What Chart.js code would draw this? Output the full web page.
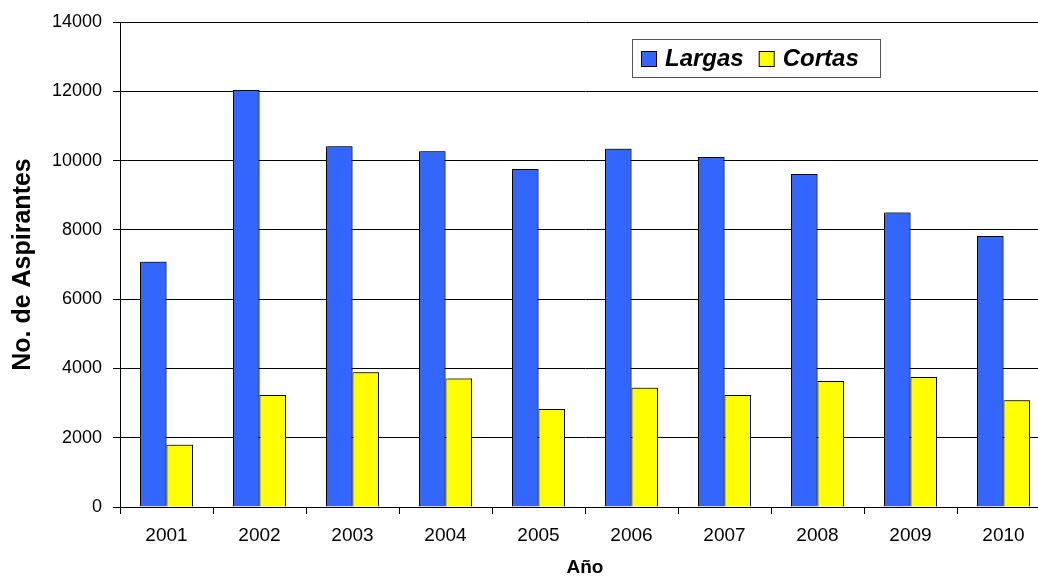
<!DOCTYPE html>
<html>
<head>
<meta charset="utf-8">
<script src="https://cdn.jsdelivr.net/npm/chart.js@4.4.1/dist/chart.umd.min.js"></script>
<style>
  html, body { margin: 0; padding: 0; background: #fff; overflow: hidden; }
  canvas { display: block; }
</style>
</head>
<body>
<canvas id="myChart" width="1050" height="579"></canvas>
<script>
// Data
const years = ['2001', '2002', '2003', '2004', '2005', '2006', '2007', '2008', '2009', '2010'];
const largas = [7080, 12040, 10410, 10270, 9760, 10340, 10100, 9610, 8500, 7820];
const cortas = [1800, 3230, 3890, 3710, 2830, 3440, 3230, 3640, 3750, 3080];
const yTicks = [0, 2000, 4000, 6000, 8000, 10000, 12000, 14000];

// Little shadow on the bars, like the old spreadsheet chart
const barShadow = {
    id: 'barShadow',
    beforeDatasetsDraw(chart) {
        const ctx = chart.ctx;
        ctx.save();
        ctx.shadowColor = 'rgba(0,0,0,0.45)';
        ctx.shadowOffsetX = 2;
        ctx.shadowOffsetY = -1;
        ctx.shadowBlur = 0;
    },
    afterDatasetsDraw(chart) {
        chart.ctx.restore();
    }
};

// Boxed legend placed inside the plot, top right
const boxLegend = {
    id: 'boxLegend',
    afterDraw(chart) {
        const ctx = chart.ctx;
        const x = 632, y = 39, w = 248, h = 38;
        ctx.save();
        ctx.fillStyle = '#fff';
        ctx.fillRect(x, y, w, h);
        ctx.strokeStyle = '#555';
        ctx.lineWidth = 1;
        ctx.strokeRect(x + 0.5, y + 0.5, w, h);
        ctx.font = 'italic bold 24px "Liberation Sans", Arial, sans-serif';
        ctx.textBaseline = 'middle';
        let cx = x + 9;
        chart.data.datasets.forEach(ds => {
            ctx.fillStyle = ds.backgroundColor;
            ctx.fillRect(cx, y + 12, 15, 15);
            ctx.strokeStyle = '#000';
            ctx.strokeRect(cx + 0.5, y + 12.5, 15, 15);
            ctx.fillStyle = '#000';
            ctx.fillText(ds.label, cx + 24, y + 20);
            cx += 24 + ctx.measureText(ds.label).width + 15;
        });
        ctx.restore();
    }
};

const chartX = document.getElementById('myChart').getContext('2d');
const chart = new Chart(chartX, {
    type: 'bar',
    data: {
        labels: years,
        datasets: [{
            label: 'Largas',
            data: largas,
            backgroundColor: '#3366FF',
            borderColor: '#000',
            borderWidth: 1
        }, {
            label: 'Cortas',
            data: cortas,
            backgroundColor: '#FFFF00',
            borderColor: '#000',
            borderWidth: 1
        }]
    },
    options: {
        responsive: false,
        animation: false,
        categoryPercentage: 0.57,
        barPercentage: 1.0,
        layout: { padding: { top: 22, right: 0, left: 0, bottom: 0 } },
        plugins: {
            legend: { display: false },
            tooltip: { enabled: false }
        },
        scales: {
            x: {
                grid: {
                    display: true,
                    drawOnChartArea: false,
                    offset: true,
                    tickLength: 7,
                    color: '#000'
                },
                border: { color: '#000', width: 1 },
                ticks: {
                    color: '#000',
                    padding: 10,
                    font: { family: '"Liberation Sans", Arial, sans-serif', size: 19 }
                },
                title: {
                    display: true,
                    text: 'Año',
                    color: '#000',
                    padding: { top: 0, bottom: 0 },
                    font: { family: '"Liberation Sans", Arial, sans-serif', size: 19, weight: 'bold' }
                },
                afterFit(scale) { scale.height = 72; }
            },
            y: {
                min: 0,
                max: 14000,
                afterBuildTicks(scale) {
                    scale.ticks = yTicks.map(v => ({ value: v }));
                },
                grid: {
                    color: '#000',
                    lineWidth: 1,
                    tickLength: 7
                },
                border: { color: '#000', width: 1 },
                ticks: {
                    color: '#000',
                    padding: 11,
                    font: { family: '"Liberation Sans", Arial, sans-serif', size: 18 },
                    callback: value => String(value)
                },
                title: {
                    display: true,
                    text: 'No. de Aspirantes',
                    color: '#000',
                    padding: { top: 8, bottom: 0 },
                    font: { family: '"Liberation Sans", Arial, sans-serif', size: 25, weight: 'bold' }
                },
                afterFit(scale) { scale.width = 120; }
            }
        }
    },
    plugins: [barShadow, boxLegend]
});
</script>
</body>
</html>
